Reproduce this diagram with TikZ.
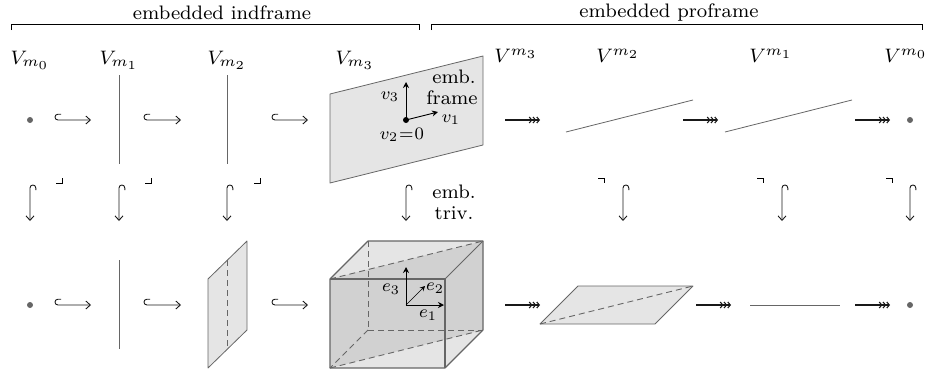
\documentclass[tikz,border=0pt]{standalone}
\usetikzlibrary{arrows.meta,calc}
\tikzset{
  x=1bp,y=-1bp,
  every node/.style={inner sep=0pt,outer sep=0pt},
  txt/.style={scale=2.45,font=\fontsize{8}{10}\selectfont},
  vecl/.style={scale=2.2,font=\fontsize{8}{10}\selectfont},
  geom/.style={draw=black!60,line width=0.8bp},
  surf/.style={geom,fill=black!10,line join=round},
  dsh/.style={draw=black!60,line width=0.9bp,dash pattern=on 6bp off 4bp},
  dotg/.style={circle,fill=black!60,minimum size=6bp},
  hookar/.style={line width=0.9bp,black!90,-{Straight Barb[length=4.5bp,width=8bp]}},
  proar/.style={line width=1.1bp,black!90,-{Straight Barb[length=2.5bp,width=6bp]Straight Barb[length=2.5bp,width=6bp]Straight Barb[length=2.5bp,width=6bp]}},
  vec/.style={line width=0.9bp,black,-{Stealth[length=6bp,width=6bp]}},
  brk/.style={line width=0.8bp,black},
  corner/.style={line width=0.8bp,black},
}
% hooked arrows: horizontal {x}{y}{xend}, vertical {x}{y}{yend}
\newcommand{\hookh}[3]{\draw[hookar] (#1+6,#2-5.8) -- (#1+3,#2-5.8) .. controls (#1-1,#2-5.8) and (#1-1,#2) .. (#1+3,#2) -- (#3,#2);}
\newcommand{\hookv}[3]{\draw[hookar] (#1+5.8,#2+5) -- (#1+5.8,#2+3) .. controls (#1+5.8,#2-1) and (#1,#2-1) .. (#1,#2+3) -- (#1,#3);}
\begin{document}
\begin{tikzpicture}
\useasboundingbox (0,0) rectangle (927,371);
% brackets
\coordinate (bl0) at (11,30); \coordinate (bl1) at (11,24); \coordinate (bl2) at (419,24); \coordinate (bl3) at (419,30);
\coordinate (br0) at (431,30); \coordinate (br1) at (431,24); \coordinate (br2) at (922,24); \coordinate (br3) at (922,30);
\draw[brk] (bl0)--(bl1)--(bl2)--(bl3);
\draw[brk] (br0)--(br1)--(br2)--(br3);
\node[txt] (ti) at (222,13) {embedded indframe};
\node[txt] (tp) at (669,13) {embedded proframe};
% labels
\node[txt] (l0) at (30,60) {$V_{m_0}$};
\node[txt] (l1) at (119,60) {$V_{m_1}$};
\node[txt] (l2) at (227,60) {$V_{m_2}$};
\node[txt] (l3) at (355,60) {$V_{m_3}$};
\node[txt] (u3) at (516,56) {$V^{m_3}$};
\node[txt] (u2) at (618,56) {$V^{m_2}$};
\node[txt] (u1) at (771,56) {$V^{m_1}$};
\node[txt] (u0) at (906,56) {$V^{m_0}$};
% top row
\node[dotg] (a0) at (30,120) {};
\draw[geom] (119,75) coordinate (a1t) -- (119,164) coordinate (a1b);
\draw[geom] (227,75) coordinate (a2t) -- (227,164) coordinate (a2b);
\draw[surf] (330,94)--(483,56)--(483,145)--(330,183)--cycle;
\draw[geom] (566,132)--(693,100);
\draw[geom] (725,132)--(852,100);
\node[dotg] (a7) at (910,120) {};
% frame
\coordinate (o) at (406,120);
\draw[vec] (o)--(406,82);
\draw[vec] (o)--(438,112);
\node[circle,fill=black,minimum size=6bp] (od) at (o) {};
\node[vecl] (v3) at (390,97) {$v_3$};
\node[vecl] (v1) at (451,120) {$v_1$};
\node[vecl] (v2) at (402,135) {$v_2\mkern-4mu=\mkern-4mu0$};
\node[txt] (ef1) at (454,77) {emb.};
\node[txt] (ef2) at (452,98) {frame};
\node[txt] (et1) at (454,192) {emb.};
\node[txt] (et2) at (454,213) {triv.};
% top arrows
\hookh{55}{120}{91}
\hookh{144}{120}{181}
\hookh{272}{120}{308}
\draw[proar] (505,120)--(540,120);
\draw[proar] (683,120)--(718,120);
\draw[proar] (855,120)--(890,120);
% vertical arrows
\foreach \x in {30,119,227,406,623,782,910}{
  \hookv{\x}{185}{221}
}
% corners
\foreach \x in {62,151,260}{ \draw[corner] (\x-6,183)--(\x,183)--(\x,178); }
\foreach \x in {598,757,886}{ \draw[corner] (\x,178)--(\x+6,178)--(\x+6,183); }
% bottom row
\node[dotg] (b0) at (30,305) {};
\draw[geom] (119,260)--(119,349);
\draw[surf] (208,279)--(247,241)--(247,330)--(208,368)--cycle;
\draw[dsh] (227,260)--(227,349);
% cube
\fill[black!10] (330,279)--(368,241)--(483,241)--(483,330)--(445,368)--(330,368)--cycle;
\fill[black!18] (330,279)--(483,241)--(483,330)--(330,368)--cycle;
\draw[dsh] (330,279)--(483,241);
\draw[dsh] (330,368)--(483,330);
\draw[dsh] (368,241)--(368,330);
\draw[dsh] (368,330)--(483,330);
\draw[dsh] (368,330)--(330,368);
\draw[geom,line width=1.1bp,line join=round] (330,279)--(368,241)--(483,241)--(483,330)--(445,368)--(330,368)--cycle;
\draw[geom,line width=1.1bp] (330,279)--(445,279)--(445,368);
\draw[geom,line width=1bp] (445,279)--(483,241);
\coordinate (e) at (406,305);
\draw[vec] (e)--(406,267);
\draw[vec] (e)--(444,305);
\draw[-{Stealth[length=5bp,width=5bp]},line width=0.5bp,black] (e)--(425,286);
\node[vecl] (e3) at (391,289) {$e_3$};
\node[vecl] (e2) at (435,288) {$e_2$};
\node[vecl] (e1) at (428,315) {$e_1$};
\hookh{55}{305}{91}
\hookh{144}{305}{181}
\hookh{272}{305}{308}
\draw[proar] (505,305)--(540,305);
\draw[proar] (696,305)--(731,305);
\draw[proar] (855,305)--(890,305);
\draw[surf] (540,324)--(578,286)--(693,286)--(655,324)--cycle;
\draw[dsh] (540,324)--(693,286);
\draw[geom] (750,305)--(840,305);
\node[dotg] (b7) at (910,305) {};
\end{tikzpicture}
\end{document}
